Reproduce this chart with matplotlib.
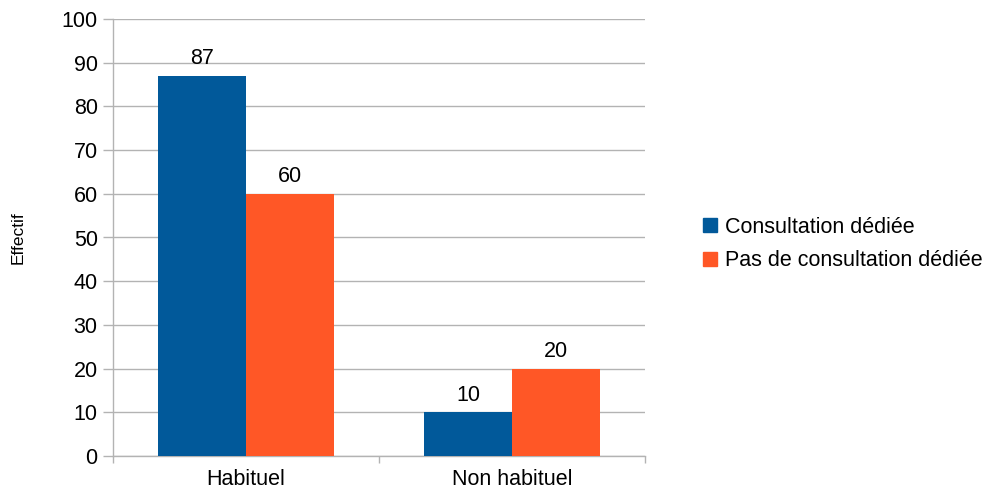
import numpy as np
import matplotlib.pyplot as plt
from matplotlib.patches import Patch

plt.rcParams['font.family'] = ['Liberation Sans', 'DejaVu Sans']

# ================== data ==================
categories = ["Habituel", "Non habituel"]
series_names = ["Consultation dédiée", "Pas de consultation dédiée"]
consultation = [87, 10]
pas_consultation = [60, 20]
y_ticks = list(range(0, 101, 10))

colors = ["#01599a", "#ff5726"]
grid_col = "#b3b3b3"
fs = 15.5

fig = plt.figure(figsize=(9.92, 4.98), dpi=100)
ax = fig.add_axes([113 / 992, 42 / 498, 532 / 992, 437 / 498])

x = np.arange(len(categories))
w = 88 / 266
ax.bar(x - w / 2, consultation, w, color=colors[0], zorder=3)
ax.bar(x + w / 2, pas_consultation, w, color=colors[1], zorder=3)

for xi, v in zip(x - w / 2, consultation):
    ax.text(xi, v + 1.5, str(v), ha="center", va="bottom", fontsize=fs)
for xi, v in zip(x + w / 2, pas_consultation):
    ax.text(xi, v + 1.5, str(v), ha="center", va="bottom", fontsize=fs)

ax.set_xlim(-0.5, 1.5)
ax.set_ylim(0, 100)
ax.set_yticks(y_ticks)
ax.tick_params(axis="y", labelsize=fs, length=7, width=1, color=grid_col, pad=4)
ax.yaxis.grid(True, color=grid_col, linewidth=1, zorder=0)

# category ticks sit between groups
ax.set_xticks([-0.5, 0.5, 1.5])
ax.set_xticklabels([])
ax.set_xticks(x, minor=True)
ax.set_xticklabels(categories, minor=True, fontsize=fs)
ax.tick_params(axis="x", which="major", length=5, width=1, color=grid_col)
ax.tick_params(axis="x", which="minor", length=0, pad=9)

for s in ["top", "right"]:
    ax.spines[s].set_visible(False)
for s in ["left", "bottom"]:
    ax.spines[s].set_color(grid_col)
    ax.spines[s].set_linewidth(1)

ax.set_ylabel("Effectif", fontsize=12.5, labelpad=26)

handles = [Patch(color=c) for c in colors]
fig.legend(handles, series_names, loc="center left", bbox_to_anchor=(684 / 992, 1 - 244 / 498),
           frameon=False, fontsize=fs, handlelength=0.65, handleheight=0.65,
           handletextpad=0.35, labelspacing=0.6)

fig.savefig("out.png", dpi=100)
